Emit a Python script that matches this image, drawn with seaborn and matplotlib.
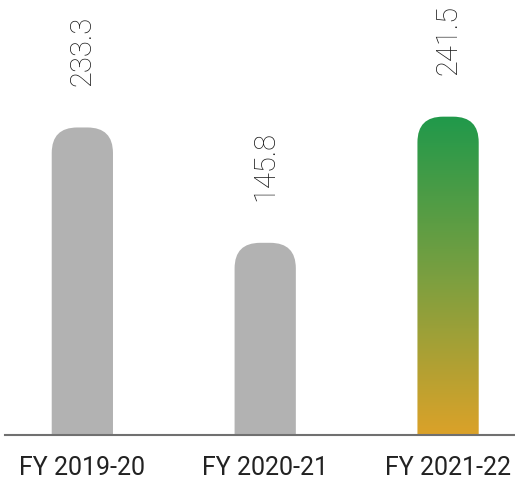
import numpy as np
import pandas as pd
import matplotlib.pyplot as plt
import seaborn as sns
from matplotlib.patches import FancyBboxPatch
from matplotlib.colors import LinearSegmentedColormap

# Data
years = ['FY 2019-20', 'FY 2020-21', 'FY 2021-22']
values = [233.3, 145.8, 241.5]
value_labels = ['233.3', '145.8', '241.5']

df = pd.DataFrame({'Year': years, 'Value': values})

sns.set_style('white')
plt.rcParams['font.family'] = ['Roboto', 'DejaVu Sans']

fig = plt.figure(figsize=(5.15, 4.82), dpi=100)
ax = fig.add_axes([5 / 515, 47 / 482, 510 / 515, 435 / 482])

bar_w = 0.335
sns.barplot(data=df, x='Year', y='Value', color='#b2b2b2', width=bar_w, ax=ax)

XLIM = (-0.423, 2.366)
YLIM = (0, 330)
ax.set_xlim(*XLIM)
ax.set_ylim(*YLIM)

# px per data unit, used to keep the corner rounding circular
fig.canvas.draw()
bbox = ax.get_window_extent()
px_x = bbox.width / (XLIM[1] - XLIM[0])
px_y = bbox.height / (YLIM[1] - YLIM[0])
aspect = px_x / px_y
r = 0.14  # corner radius in x units

grad_cmap = LinearSegmentedColormap.from_list('g', ['#dba229', '#7a9f40', '#20994b'])

for i, p in enumerate(list(ax.patches)):
    x0, w, h = p.get_x(), p.get_width(), p.get_height()
    p.remove()
    rounded = FancyBboxPatch((x0, -r * aspect * 2), w, h + r * aspect * 2,
                             boxstyle=f'round,pad=0,rounding_size={r}',
                             mutation_aspect=aspect,
                             facecolor='#b2b2b2' if i < 2 else 'none',
                             edgecolor='none', zorder=2)
    ax.add_patch(rounded)
    if i == 2:
        grad = np.linspace(0, 1, 256).reshape(-1, 1)
        im = ax.imshow(grad, cmap=grad_cmap, origin='lower', aspect='auto',
                       extent=(x0, x0 + w, 0, h), zorder=2)
        im.set_clip_path(rounded)

ax.set_xlim(*XLIM)
ax.set_ylim(*YLIM)

for i, v in enumerate(values):
    ax.annotate(value_labels[i], (i, v), xytext=(0, 30), textcoords='offset points',
                rotation=90, ha='center', va='bottom', fontsize=21,
                fontweight='light', color='#1a1a1a')

for s in ['top', 'right', 'left']:
    ax.spines[s].set_visible(False)
ax.spines['bottom'].set_color('#707070')
ax.spines['bottom'].set_linewidth(1.5)
ax.set_yticks([])
ax.set_xlabel('')
ax.set_ylabel('')
ax.tick_params(axis='x', length=0, pad=15, labelsize=18, labelcolor='#222222')

fig.savefig('out.png', dpi=100)
